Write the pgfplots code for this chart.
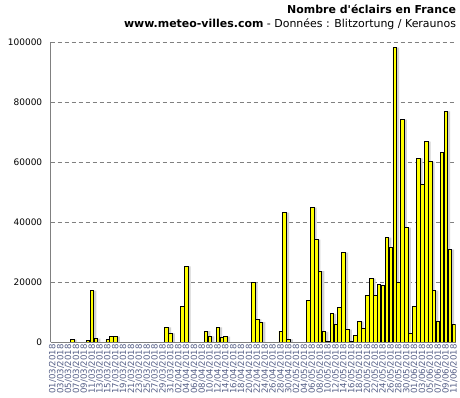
\documentclass[border=0pt]{standalone}
\usepackage{pgfplots}
\pgfplotsset{compat=1.18}
\usepackage{pgfplotstable}
\usepackage{fontspec}
\setmainfont{DejaVu Sans}
\definecolor{gridgray}{RGB}{128,128,128}
\definecolor{baryellow}{RGB}{255,255,0}
\definecolor{lblblue}{RGB}{85,95,135}
\pgfplotstableread{
day val
0 0
1 0
2 0
3 0
4 0
5 800
6 0
7 0
8 0
9 500
10 17100
11 1100
12 0
13 0
14 800
15 1800
16 1800
17 0
18 0
19 0
20 0
21 0
24 0
25 0
27 0
28 0
29 4900
30 2900
33 11700
34 25200
35 0
36 0
37 0
38 0
39 3600
40 1900
41 0
42 4900
43 1600
44 1800
45 0
46 0
47 0
48 0
50 0
51 19800
52 7500
53 6600
54 0
55 0
57 0
58 3600
59 43100
60 900
61 0
62 0
63 0
64 0
65 13800
66 44800
67 34100
68 23600
69 3400
70 300
71 9400
72 5800
73 11600
74 29800
75 4100
76 300
77 2200
78 6800
79 4400
80 15400
81 21100
82 15400
83 19100
84 18700
85 34800
86 31400
87 98100
88 19800
89 74100
90 38100
91 2800
92 11800
93 61200
94 52400
95 66800
96 60100
97 17100
98 6800
99 63100
100 76900
101 30800
102 5800
}\lightning
\begin{document}
\begin{tikzpicture}
\begin{axis}[
  scale only axis, width=405bp, height=300bp,
  at={(0,0)}, anchor=south west,
  xmin=-0.5, xmax=102.5, ymin=0, ymax=100000,
  axis x line*=bottom, axis y line*=left,
  axis line style={gridgray, line width=1bp},
  ymajorgrids, grid style={gridgray, dash pattern=on 4bp off 3bp, line width=0.8bp},
  ytick={0,20000,40000,60000,80000,100000},
  xtick={0,2,...,102},
  xticklabels={01/03/2018,03/03/2018,05/03/2018,07/03/2018,09/03/2018,11/03/2018,13/03/2018,15/03/2018,17/03/2018,19/03/2018,21/03/2018,23/03/2018,25/03/2018,27/03/2018,29/03/2018,31/03/2018,
  02/04/2018,04/04/2018,06/04/2018,08/04/2018,10/04/2018,12/04/2018,14/04/2018,16/04/2018,18/04/2018,20/04/2018,22/04/2018,24/04/2018,26/04/2018,28/04/2018,30/04/2018,
  02/05/2018,04/05/2018,06/05/2018,08/05/2018,10/05/2018,12/05/2018,14/05/2018,16/05/2018,18/05/2018,20/05/2018,22/05/2018,24/05/2018,26/05/2018,28/05/2018,30/05/2018,
  01/06/2018,03/06/2018,05/06/2018,07/06/2018,09/06/2018,11/06/2018},
  major tick length=0pt,
  scaled y ticks=false,
  yticklabel style={font=\fontsize{9}{10}\selectfont, black, xshift=-5bp,
    /pgf/number format/fixed, /pgf/number format/precision=0,
    /pgf/number format/1000 sep={}, /pgf/number format/assume math mode=true},
  xticklabel style={font=\fontsize{8.6}{10}\selectfont, lblblue, rotate=90, anchor=east, inner sep=2bp},
  ybar, bar width=0.92,
]
\addplot[fill=black!18, draw=none, bar shift=0.65] table[x=day,y=val]{\lightning};
\addplot[fill=baryellow, draw=black, line width=0.8bp, bar shift=0] table[x=day,y=val]{\lightning};
\end{axis}
\node[anchor=base east, inner sep=0, font=\fontsize{11}{13}\selectfont\bfseries] at (405.5bp,328bp) {Nombre d\textquotesingle éclairs en France};
\node[anchor=base east, inner sep=0, font=\fontsize{11}{13}\selectfont] at (405.5bp,314.5bp) {\textbf{www.meteo-villes.com} - Données : Blitzortung / Keraunos};
\pgfresetboundingbox
\useasboundingbox (-50.7bp,-56bp) rectangle (409.3bp,342bp);
\end{tikzpicture}
\end{document}
